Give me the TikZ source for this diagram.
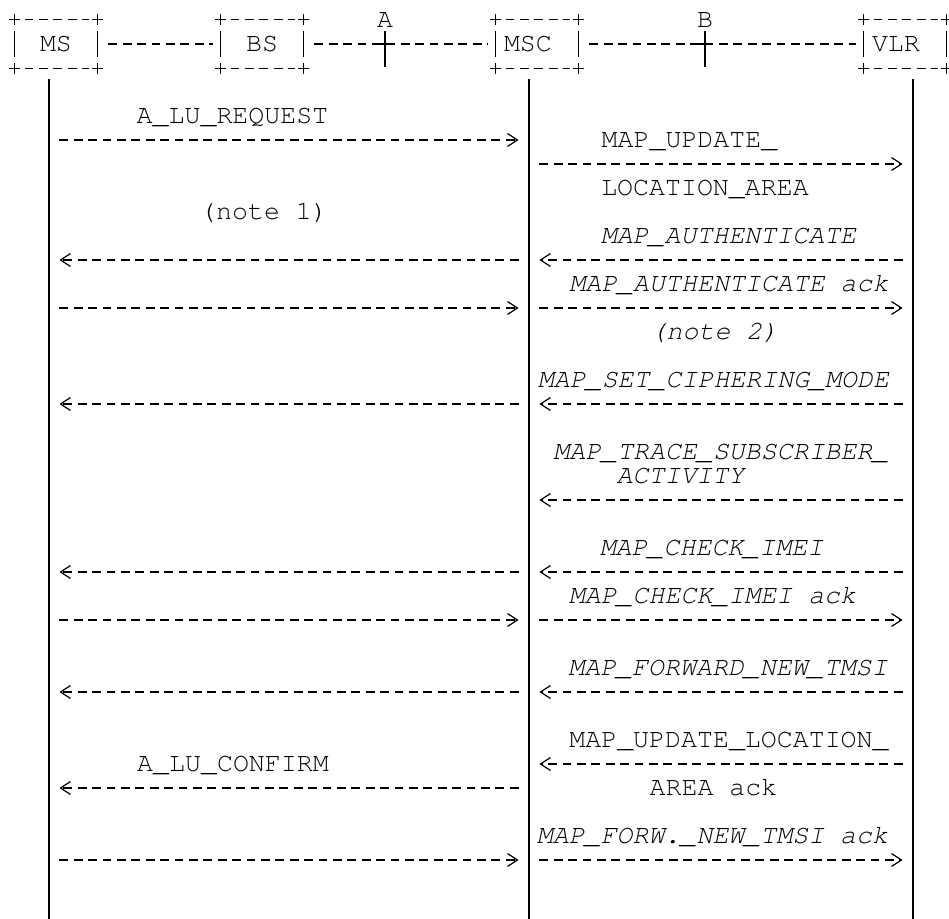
\documentclass[tikz,border=0pt]{standalone}
\usepackage{fontspec}
\setmonofont{TeX Gyre Cursor}
\usetikzlibrary{arrows.meta}

\begin{document}
\begin{tikzpicture}[x=0.5pt, y=-0.5pt,
  every node/.style={font=\ttfamily\fontsize{13.3}{16}\selectfont, inner sep=0pt},
  entity/.style={text width=33pt, inner xsep=4pt, minimum height=24pt, align=center},
  lbl/.style={anchor=base},
  itlbl/.style={anchor=base, font=\ttfamily\itshape\fontsize{13.3}{16}\selectfont},
  dashline/.style={line width=0.55pt, dash pattern=on 4.4pt off 2.8pt},
  link/.style={dashline, shorten <=5.5pt, shorten >=4pt},
  life/.style={line width=0.7pt},
  msg/.style={dashline, shorten <=5.2pt, shorten >=5.2pt, -{Straight Barb[length=5pt,width=6.5pt,line width=0.6pt]}}]
  \useasboundingbox (0,0) rectangle (949,919);

  \node[entity] (ms) at (56,44) {MS};
  \node[entity] (bs) at (262,44) {BS};
  \node[entity, align=left] (msc) at (537,44) {MSC};
  \node[entity, align=left] (vlr) at (905,44) {VLR};
  \foreach \n in {ms,bs,msc,vlr} {
    \draw[dashline, dash phase=-1pt] ([xshift=4pt]\n.north west) -- ([xshift=-4pt]\n.north east);
    \draw[dashline, dash phase=-1pt] ([xshift=4pt]\n.south west) -- ([xshift=-4pt]\n.south east);
    \draw[line width=0.6pt] ([yshift=-5.5pt]\n.north west) -- ([yshift=5.5pt]\n.south west);
    \draw[line width=0.6pt] ([yshift=-5.5pt]\n.north east) -- ([yshift=5.5pt]\n.south east);
    \foreach \c in {north west,north east,south west,south east}
      \draw[line width=0.6pt] (\n.\c) +(-2.6pt,0) -- +(2.6pt,0) +(0,-2.6pt) -- +(0,2.6pt);
  }

  \draw[link] (ms) -- (bs);
  \draw[link] (bs) -- (msc);
  \draw[link] (msc) -- (vlr);
  \node[lbl] (ifa) at (385,27.5) {A};
  \node[lbl] (ifb) at (705,27.5) {B};
  \draw[line width=0.7pt] (ifa.south |- 0,31) -- (ifa.south |- 0,67);
  \draw[line width=1pt] ([xshift=-2.8pt]ifa.south |- 0,44) -- ([xshift=2.8pt]ifa.south |- 0,44);
  \draw[line width=0.7pt] (ifb.south |- 0,31) -- (ifb.south |- 0,67);
  \draw[line width=1pt] ([xshift=-2.8pt]ifb.south |- 0,44) -- ([xshift=2.8pt]ifb.south |- 0,44);

  \coordinate (msl) at (49,79);
  \coordinate (mscl) at (529,79);
  \coordinate (vlrl) at (913,79);
  \draw[life] (msl) -- ++(0,840);
  \draw[life] (mscl) -- ++(0,840);
  \draw[life] (vlrl) -- ++(0,840);

  \node[lbl] (lureq) at (232.5,123.5) {A\_LU\_REQUEST};
  \node[lbl] (note1) at (264,219.5) {(note 1)};
  \node[lbl] (lucnf) at (233,771.5) {A\_LU\_CONFIRM};
  \node[lbl] (upd1) at (689.5,147.5) {MAP\_UPDATE\_};
  \node[lbl] (upd2) at (705,195.5) {LOCATION\_AREA};
  \node[itlbl] (auth) at (728.5,243.5) {MAP\_AUTHENTICATE};
  \node[itlbl] (authack) at (729,291.5) {MAP\_AUTHENTICATE ack};
  \node[itlbl] (note2) at (714.5,339.5) {(note 2)};
  \node[itlbl] (ciph) at (713.5,387.5) {MAP\_SET\_CIPHERING\_MODE};
  \node[itlbl] (trace1) at (721,459.5) {MAP\_TRACE\_SUBSCRIBER\_};
  \node[itlbl] (trace2) at (680.5,483.5) {ACTIVITY};
  \node[itlbl] (imei) at (711.5,555.5) {MAP\_CHECK\_IMEI};
  \node[itlbl] (imeiack) at (712.5,603.5) {MAP\_CHECK\_IMEI ack};
  \node[itlbl] (tmsi) at (728,675.5) {MAP\_FORWARD\_NEW\_TMSI};
  \node[lbl] (updack1) at (729,747.5) {MAP\_UPDATE\_LOCATION\_};
  \node[lbl] (updack2) at (713.5,795.5) {AREA ack};
  \node[itlbl] (tmsiack) at (712.5,843.5) {MAP\_FORW.\_NEW\_TMSI ack};

  \draw[msg] (msl |- 0,140) -- (mscl |- 0,140);
  \draw[msg] (mscl |- 0,260) -- (msl |- 0,260);
  \draw[msg] (msl |- 0,308) -- (mscl |- 0,308);
  \draw[msg] (mscl |- 0,404) -- (msl |- 0,404);
  \draw[msg] (mscl |- 0,572) -- (msl |- 0,572);
  \draw[msg] (msl |- 0,620) -- (mscl |- 0,620);
  \draw[msg] (mscl |- 0,692) -- (msl |- 0,692);
  \draw[msg] (mscl |- 0,788) -- (msl |- 0,788);
  \draw[msg] (msl |- 0,860) -- (mscl |- 0,860);

  \draw[msg] (mscl |- 0,164) -- (vlrl |- 0,164);
  \draw[msg] (vlrl |- 0,260) -- (mscl |- 0,260);
  \draw[msg] (mscl |- 0,308) -- (vlrl |- 0,308);
  \draw[msg] (vlrl |- 0,404) -- (mscl |- 0,404);
  \draw[msg] (vlrl |- 0,500) -- (mscl |- 0,500);
  \draw[msg] (vlrl |- 0,572) -- (mscl |- 0,572);
  \draw[msg] (mscl |- 0,620) -- (vlrl |- 0,620);
  \draw[msg] (vlrl |- 0,692) -- (mscl |- 0,692);
  \draw[msg] (vlrl |- 0,764) -- (mscl |- 0,764);
  \draw[msg] (mscl |- 0,860) -- (vlrl |- 0,860);
\end{tikzpicture}
\end{document}
